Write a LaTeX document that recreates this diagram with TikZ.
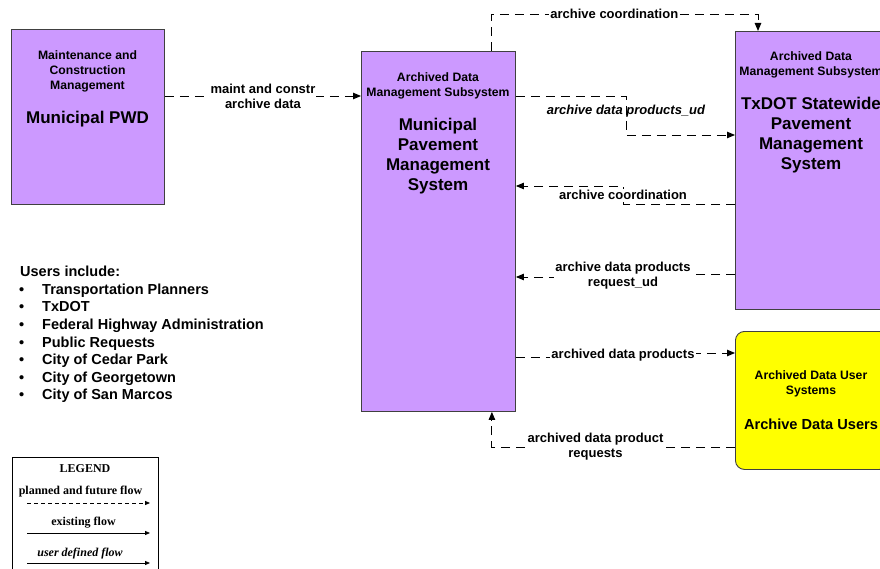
\documentclass[tikz,border=0pt]{standalone}
\usepackage{fontspec}
\setmainfont{Liberation Sans}
\newfontfamily\tnr{Liberation Serif}
\usetikzlibrary{arrows.meta}
\definecolor{purp}{HTML}{CC99FF}
\definecolor{yel}{HTML}{FFFF00}
\definecolor{edge}{HTML}{404040}
\tikzset{
  sysbox/.style={draw=edge, line width=0.9pt, fill=purp, inner sep=0pt, anchor=north west},
  usrbox/.style={draw=edge, line width=0.9pt, fill=yel, inner sep=0pt, anchor=north west, rounded corners=9pt},
  smalltxt/.style={font=\bfseries\fontsize{12.2}{15}\selectfont, align=center, inner sep=0pt},
  bigtxt/.style={font=\bfseries\fontsize{17}{20}\selectfont, align=center, inner sep=0pt},
  flow/.style={draw=black, line width=0.9pt, dash pattern=on 9pt off 6pt, -{Triangle[length=8pt,width=6.5pt]}},
  lbl/.style={font=\bfseries\fontsize{13}{15}\selectfont, align=center, fill=white, inner sep=1pt},
  lbli/.style={font=\bfseries\itshape\fontsize{13}{15}\selectfont, align=center, inner sep=1pt},
  legtxt/.style={font=\tnr\bfseries\fontsize{12}{14}\selectfont, inner sep=0pt},
  legflow/.style={draw=black, line width=0.8pt, -{Triangle[length=5pt,width=4pt]}},
}
\begin{document}
\begin{tikzpicture}[x=1pt,y=-1pt]
\useasboundingbox (0,0) rectangle (880,569);
\clip (0,0) rectangle (880,569);

% boxes
\node[sysbox, minimum width=153pt, minimum height=175pt] (pwd) at (11,29) {};
\node[sysbox, minimum width=154pt, minimum height=360pt] (mun) at (361,51) {};
\node[sysbox, minimum width=153pt, minimum height=278pt] (tx) at (735,31) {};
\node[usrbox, minimum width=153pt, minimum height=138pt] (usr) at (735,331) {};

% box texts
\node[smalltxt] (pwdsub) at (87.5,71) {Maintenance and\\Construction\\Management};
\node[bigtxt] (pwdname) at (87.5,119) {Municipal PWD};
\node[smalltxt] (munsub) at (438,85.5) {Archived Data\\Management Subsystem};
\node[bigtxt] (munname) at (438,156) {Municipal\\Pavement\\Management\\System};
\node[smalltxt] (txsub) at (811,65) {Archived Data\\Management Subsystem};
\node[bigtxt] (txname) at (811,135.5) {TxDOT Statewide\\Pavement\\Management\\System};
\node[smalltxt] (usrsub) at (811,383.5) {Archived Data User\\Systems};
\node[bigtxt, font=\bfseries\fontsize{14.6}{18}\selectfont] (usrname) at (811,424) {Archive Data Users};

% helper coordinates
\coordinate (topline) at (0,14);
\coordinate (s1) at (626,0);
\coordinate (s2) at (623,0);

% connectors
\draw[flow] ([yshift=-67pt]pwd.north east) -- node[lbl]{maint and constr\\archive data} ([yshift=-45pt]mun.north west);

\coordinate (c2a) at ([xshift=-24pt]mun.north east);
\coordinate (c2b) at ([xshift=23pt]tx.north west);
\draw[flow] (c2a) -- (c2a |- topline) -- node[lbl, pos=0.46]{archive coordination} (c2b |- topline) -- (c2b);

\coordinate (c3a) at ([yshift=-45pt]mun.north east);
\coordinate (c3b) at ([yshift=-104pt]tx.north west);
\draw[flow] (c3a) -| node[lbli, pos=0.7]{archive data products\_ud} (s1 |- c3b) -- (c3b);

\coordinate (c4a) at ([yshift=-173pt]tx.north west);
\coordinate (c4b) at ([yshift=-135pt]mun.north east);
\draw[flow] (c4a) -- (s2 |- c4a) -- node[lbl]{archive coordination} (s2 |- c4b) -- (c4b);

\coordinate (c5a) at ([yshift=-243pt]tx.north west);
\coordinate (c5b) at ([yshift=-226pt]mun.north east);
\draw[flow] (c5a) -- (s2 |- c5a) -- node[lbl]{archive data products\\request\_ud} (s2 |- c5b) -- (c5b);

\coordinate (c6a) at ([yshift=-306pt]mun.north east);
\coordinate (c6b) at ([yshift=-22pt]usr.north west);
\draw[flow] (c6a) -- (s2 |- c6a) -- node[lbl]{archived data products} (s2 |- c6b) -- (c6b);

\coordinate (c7a) at ([yshift=-116pt]usr.north west);
\coordinate (c7b) at ([xshift=-24pt]mun.south east);
\draw[flow] (c7a) -| node[lbl, pos=0.287]{archived data product\\requests} (c7b);

% users list
\node[font=\bfseries\fontsize{14.5}{17.6}\selectfont, align=left, anchor=north west, inner sep=0pt] (users) at (20,266) {%
Users include:\\
\makebox[22pt][l]{\hspace{-1pt}•}Transportation Planners\\
\makebox[22pt][l]{\hspace{-1pt}•}TxDOT\\
\makebox[22pt][l]{\hspace{-1pt}•}Federal Highway Administration\\
\makebox[22pt][l]{\hspace{-1pt}•}Public Requests\\
\makebox[22pt][l]{\hspace{-1pt}•}City of Cedar Park\\
\makebox[22pt][l]{\hspace{-1pt}•}City of Georgetown\\
\makebox[22pt][l]{\hspace{-1pt}•}City of San Marcos};

% legend
\node[draw=black, line width=0.9pt, fill=white, anchor=north west, minimum width=146pt, minimum height=130pt, inner sep=0pt] (legend) at (12,457) {};
\node[legtxt] (legtitle) at (85,469) {LEGEND};
\node[legtxt] (legplan) at (80.5,492) {planned and future flow};
\coordinate (lp1) at (27,503);
\coordinate (lp2) at (150,503);
\draw[legflow, dash pattern=on 4pt off 3pt] (lp1) -- (lp2);
\node[legtxt] (legexist) at (83.5,523) {existing flow};
\coordinate (le1) at (27,533);
\coordinate (le2) at (150,533);
\draw[legflow] (le1) -- (le2);
\node[legtxt, font=\tnr\bfseries\itshape\fontsize{12}{14}\selectfont] (leguser) at (80,554) {user defined flow};
\coordinate (lu1) at (27,563);
\coordinate (lu2) at (150,563);
\draw[legflow] (lu1) -- (lu2);
\end{tikzpicture}
\end{document}
